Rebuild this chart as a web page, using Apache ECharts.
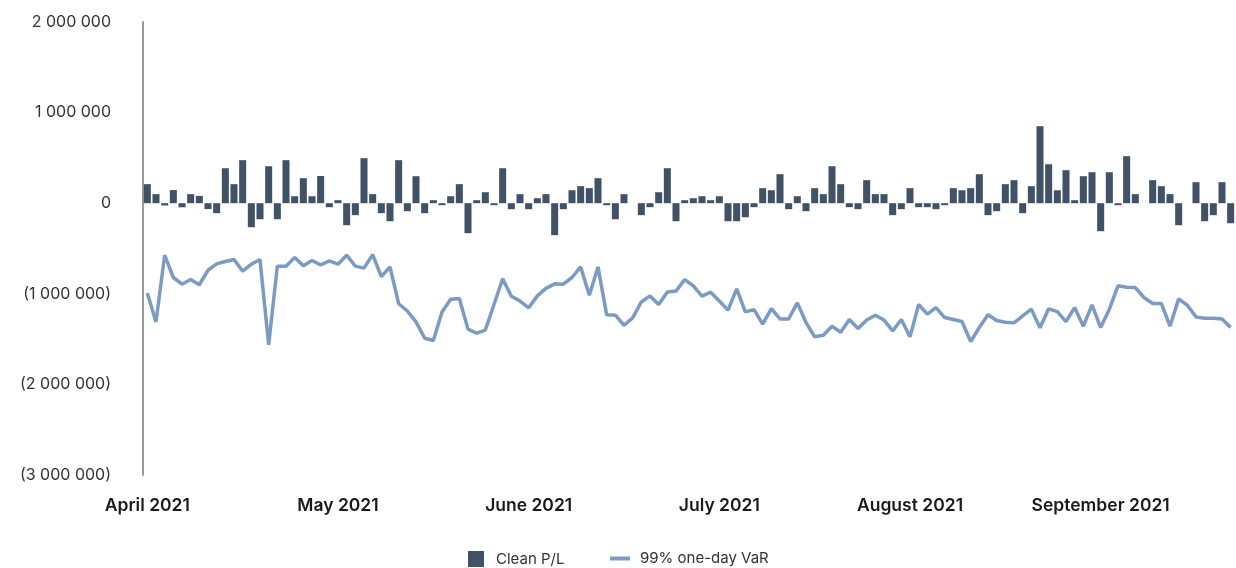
<!DOCTYPE html>
<html>
<head>
<meta charset="utf-8">
<script src="https://cdn.jsdelivr.net/npm/echarts@6/dist/echarts.min.js"></script>
<style>
html,body{margin:0;padding:0;background:#fff;}
#chart{width:1236px;height:568px;}
</style>
</head>
<body>
<div id="chart"></div>
<script>
// Trading days (UK), April - September 2021
const dates = [
"2021-04-01","2021-04-06","2021-04-07","2021-04-08","2021-04-09","2021-04-12","2021-04-13","2021-04-14","2021-04-15","2021-04-16",
"2021-04-19","2021-04-20","2021-04-21","2021-04-22","2021-04-23","2021-04-26","2021-04-27","2021-04-28","2021-04-29","2021-04-30",
"2021-05-04","2021-05-05","2021-05-06","2021-05-07","2021-05-10","2021-05-11","2021-05-12","2021-05-13","2021-05-14","2021-05-17",
"2021-05-18","2021-05-19","2021-05-20","2021-05-21","2021-05-24","2021-05-25","2021-05-26","2021-05-27","2021-05-28",
"2021-06-01","2021-06-02","2021-06-03","2021-06-04","2021-06-07","2021-06-08","2021-06-09","2021-06-10","2021-06-11","2021-06-14",
"2021-06-15","2021-06-16","2021-06-17","2021-06-18","2021-06-21","2021-06-22","2021-06-23","2021-06-24","2021-06-25","2021-06-28",
"2021-06-29","2021-06-30",
"2021-07-01","2021-07-02","2021-07-05","2021-07-06","2021-07-07","2021-07-08","2021-07-09","2021-07-12","2021-07-13","2021-07-14",
"2021-07-15","2021-07-16","2021-07-19","2021-07-20","2021-07-21","2021-07-22","2021-07-23","2021-07-26","2021-07-27","2021-07-28",
"2021-07-29","2021-07-30",
"2021-08-02","2021-08-03","2021-08-04","2021-08-05","2021-08-06","2021-08-09","2021-08-10","2021-08-11","2021-08-12","2021-08-13",
"2021-08-16","2021-08-17","2021-08-18","2021-08-19","2021-08-20","2021-08-23","2021-08-24","2021-08-25","2021-08-26","2021-08-27",
"2021-08-31",
"2021-09-01","2021-09-02","2021-09-03","2021-09-06","2021-09-07","2021-09-08","2021-09-09","2021-09-10","2021-09-13","2021-09-14",
"2021-09-15","2021-09-16","2021-09-17","2021-09-20","2021-09-21","2021-09-22","2021-09-23","2021-09-24","2021-09-27","2021-09-28",
"2021-09-29","2021-09-30"
];

const cleanPL = [
210000,100000,-25000,145000,-45000,100000,80000,-65000,-110000,386000,
210000,475000,-265000,-177000,408000,-177000,475000,77000,276000,77000,
300000,-44000,33000,-243000,-132000,497000,100000,-110000,-199000,475000,
-88000,298000,-110000,33000,-22000,77000,210000,-331000,33000,121000,
-22000,386000,-66000,100000,-66000,55000,100000,-353000,-66000,143000,
188000,166000,276000,-22000,-177000,100000,0,-132000,-44000,121000,
386000,-199000,33000,55000,77000,33000,77000,-199000,-199000,-155000,
-44000,166000,143000,320000,-66000,77000,-88000,166000,100000,408000,
210000,-44000,-66000,254000,100000,100000,-132000,-66000,166000,-44000,
-44000,-66000,-22000,166000,143000,166000,320000,-132000,-88000,210000,
254000,-110000,188000,850000,430000,143000,364000,33000,298000,342000,
-309000,342000,-22000,519000,100000,0,254000,188000,100000,-243000,
0,232000,-199000,-132000,232000,-221000
];

const var99 = [
-990000,-1310000,-574000,-820000,-894000,-843000,-900000,-740000,-670000,-644000,
-622000,-750000,-673000,-622000,-1564000,-695000,-695000,-600000,-690000,-633000,
-680000,-636000,-673000,-574000,-695000,-717000,-567000,-810000,-703000,-1110000,
-1190000,-1310000,-1490000,-1516000,-1200000,-1060000,-1052000,-1390000,-1435000,-1400000,
-1118000,-835000,-1026000,-1080000,-1155000,-1023000,-940000,-890000,-894000,-820000,
-703000,-1015000,-703000,-1232000,-1236000,-1347000,-1266000,-1090000,-1023000,-1118000,
-980000,-970000,-843000,-912000,-1026000,-982000,-1080000,-1180000,-945000,-1200000,
-1174000,-1335000,-1163000,-1277000,-1277000,-1100000,-1317000,-1475000,-1457000,-1358000,
-1424000,-1284000,-1383000,-1290000,-1236000,-1290000,-1410000,-1284000,-1475000,-1118000,
-1225000,-1152000,-1262000,-1284000,-1306000,-1527000,-1372000,-1232000,-1295000,-1313000,
-1320000,-1243000,-1170000,-1375000,-1166000,-1196000,-1306000,-1152000,-1358000,-1122000,
-1372000,-1170000,-912000,-927000,-931000,-1041000,-1107000,-1107000,-1358000,-1056000,
-1126000,-1255000,-1269000,-1269000,-1277000,-1372000
];

const monthNames = ["January","February","March","April","May","June","July","August","September","October","November","December"];
const seriesNames = ["Clean P/L","99% one-day VaR"];

function fmtNum(v){
  const s = Math.abs(v).toString().replace(/\B(?=(\d{3})+(?!\d))/g, " ");
  if (v < 0) return "(" + s + ")";
  return s;
}

const chart = echarts.init(document.getElementById('chart'), null, {renderer:'canvas'});
chart.setOption({
  animation:false,
  backgroundColor:'#ffffff',
  textStyle:{fontFamily:'Inter, "Noto Sans", sans-serif'},
  grid:{left:143, right:1, top:22, bottom:93, containLabel:false},
  legend:[
    {data:[{name:seriesNames[0], icon:'rect'}], left:468, top:551, padding:0, itemWidth:16, itemHeight:16,
     textStyle:{fontFamily:'Inter', fontSize:15, color:'#333', padding:[0,0,0,7]}},
    {data:[{name:seriesNames[1], icon:'path://M0,0h20v4h-20z', itemStyle:{color:'#7b9bc4'}}],
     left:610, top:551, padding:0, itemWidth:20, itemHeight:16, symbolKeepAspect:true,
     textStyle:{fontFamily:'Inter', fontSize:15, color:'#333', padding:[0,0,0,5]}}
  ],
  xAxis:{
    type:'category',
    data:dates,
    boundaryGap:true,
    axisLine:{show:false},
    axisTick:{show:false},
    splitLine:{show:false},
    axisLabel:{
      interval:21,
      margin:22,
      fontFamily:'Inter', fontSize:17.5, fontWeight:600, color:'#1a1a1a',
      formatter:function(v){
        const p = v.split('-');
        return monthNames[parseInt(p[1],10)-1] + ' ' + p[0];
      }
    }
  },
  yAxis:{
    type:'value',
    min:-3000000, max:2000000, interval:1000000,
    axisLine:{show:true, lineStyle:{color:'#9a9a9a', width:2}},
    axisTick:{show:false},
    splitLine:{show:false},
    axisLabel:{margin:32, fontFamily:'Inter', fontSize:16, color:'#333', formatter:fmtNum}
  },
  series:[
    {name:seriesNames[0], type:'bar', data:cleanPL, barCategoryGap:'19%',
     itemStyle:{color:'#415166'}},
    {name:seriesNames[1], type:'line', data:var99, symbol:'none', showSymbol:false,
     lineStyle:{color:'#7b9bc4', width:3.5}, itemStyle:{color:'#7b9bc4'}}
  ]
});
</script>
</body>
</html>
